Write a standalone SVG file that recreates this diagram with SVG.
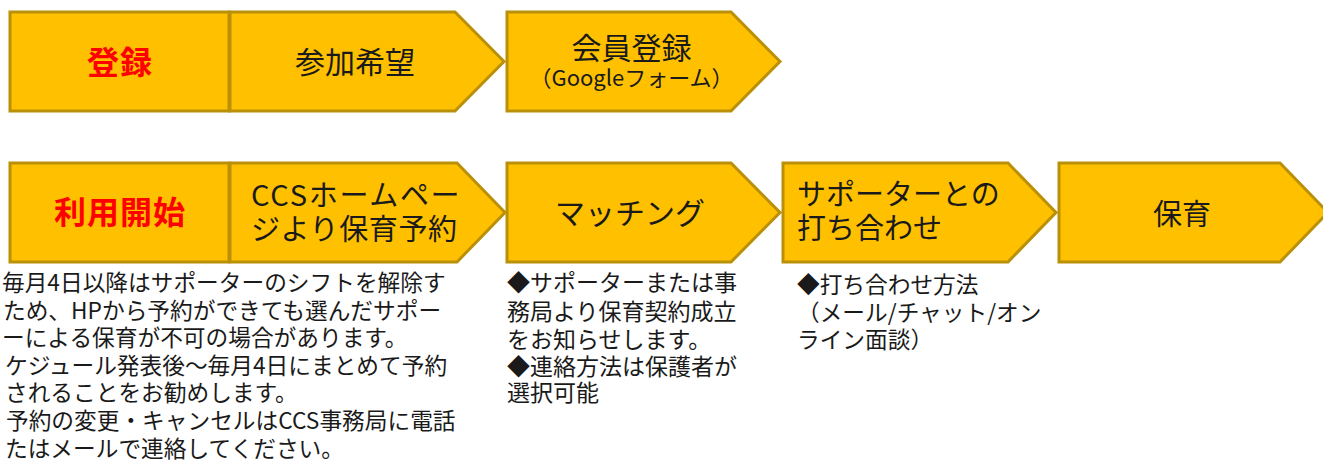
<svg xmlns="http://www.w3.org/2000/svg" width="1323" height="464" viewBox="0 0 1323 464">
<style>
.box{fill:#FFC000;stroke:#BA9008;stroke-width:3;stroke-linejoin:miter}
text{font-family:"Noto Sans CJK JP","Noto Sans",sans-serif;fill:#1a1a1a}
.lbl{font-size:29px}
.mid{text-anchor:middle}
.red{font-size:32px;font-weight:bold;fill:#FF0000;text-anchor:middle;letter-spacing:1px}
.note{font-size:22.7px}
.note2{font-size:23px}
</style>
<rect width="1323" height="464" fill="#ffffff"/>
<g id="connectors"/>
<g id="n-touroku">
<rect class="box" x="10" y="12" width="219" height="99"/>
<text class="red" x="120" y="73.5">登録</text>
</g>
<g id="n-sanka">
<polygon class="box" points="230,12 455,12 504,61.5 455,111 230,111"/>
<text class="lbl mid" x="355" y="73" style="font-size:30px">参加希望</text>
</g>
<g id="n-kaiin">
<polygon class="box" points="507,12 731,12 780,61.5 731,111 507,111"/>
<text class="mid" x="631.5" y="59" style="font-size:30px">会員登録<tspan x="631.5" y="86" style="font-size:22px">（Googleフォーム）</tspan></text>
</g>
<g id="n-riyou">
<rect class="box" x="10" y="163" width="219" height="99"/>
<text class="red" x="120" y="224">利用開始</text>
</g>
<g id="n-ccs">
<polygon class="box" points="230,163 457,163 505,212.5 457,262 230,262"/>
<text class="lbl" x="251" y="206"><tspan style="letter-spacing:1.7px">CCSホームペー</tspan><tspan x="251" y="240" style="letter-spacing:0.6px">ジより保育予約</tspan></text>
</g>
<g id="n-matching">
<polygon class="box" points="507,163 731,163 780,212.5 731,262 507,262"/>
<text class="mid" x="630" y="223.5" style="font-size:30px">マッチング</text>
</g>
<g id="n-uchiawase">
<polygon class="box" points="783,163 1008,163 1056,212.5 1008,262 783,262"/>
<text class="lbl" x="797" y="205">サポーターとの<tspan x="797" y="239">打ち合わせ</tspan></text>
</g>
<g id="n-hoiku">
<polygon class="box" points="1059,163 1280,163 1328,212.5 1280,262 1059,262"/>
<text class="lbl mid" x="1182" y="225">保育</text>
</g>
<g id="notes-left">
<text class="note" x="2" y="291">毎月4日以降はサポーターのシフトを解除す<tspan x="3" y="318.5">ため、HPから予約ができても選んだサポー</tspan><tspan x="2" y="346">ーによる保育が不可の場合があります。</tspan><tspan x="5" y="373.5">ケジュール発表後～毎月4日にまとめて予約</tspan><tspan x="5" y="401">されることをお勧めします。</tspan><tspan x="6" y="429">予約の変更・キャンセルはCCS事務局に電話</tspan><tspan x="5" y="457">たはメールで連絡してください。</tspan></text>
</g>
<g id="notes-matching">
<text class="note2" x="507" y="291">◆サポーターまたは事<tspan x="507" y="320">務局より保育契約成立</tspan><tspan x="507" y="348">をお知らせします。</tspan><tspan x="507" y="375">◆連絡方法は保護者が</tspan><tspan x="507" y="401">選択可能</tspan></text>
</g>
<g id="notes-uchiawase">
<text class="note" x="797" y="293">◆打ち合わせ方法<tspan x="797" y="321">（メール/チャット/オン</tspan><tspan x="797" y="348">ライン面談）</tspan></text>
</g>
</svg>
